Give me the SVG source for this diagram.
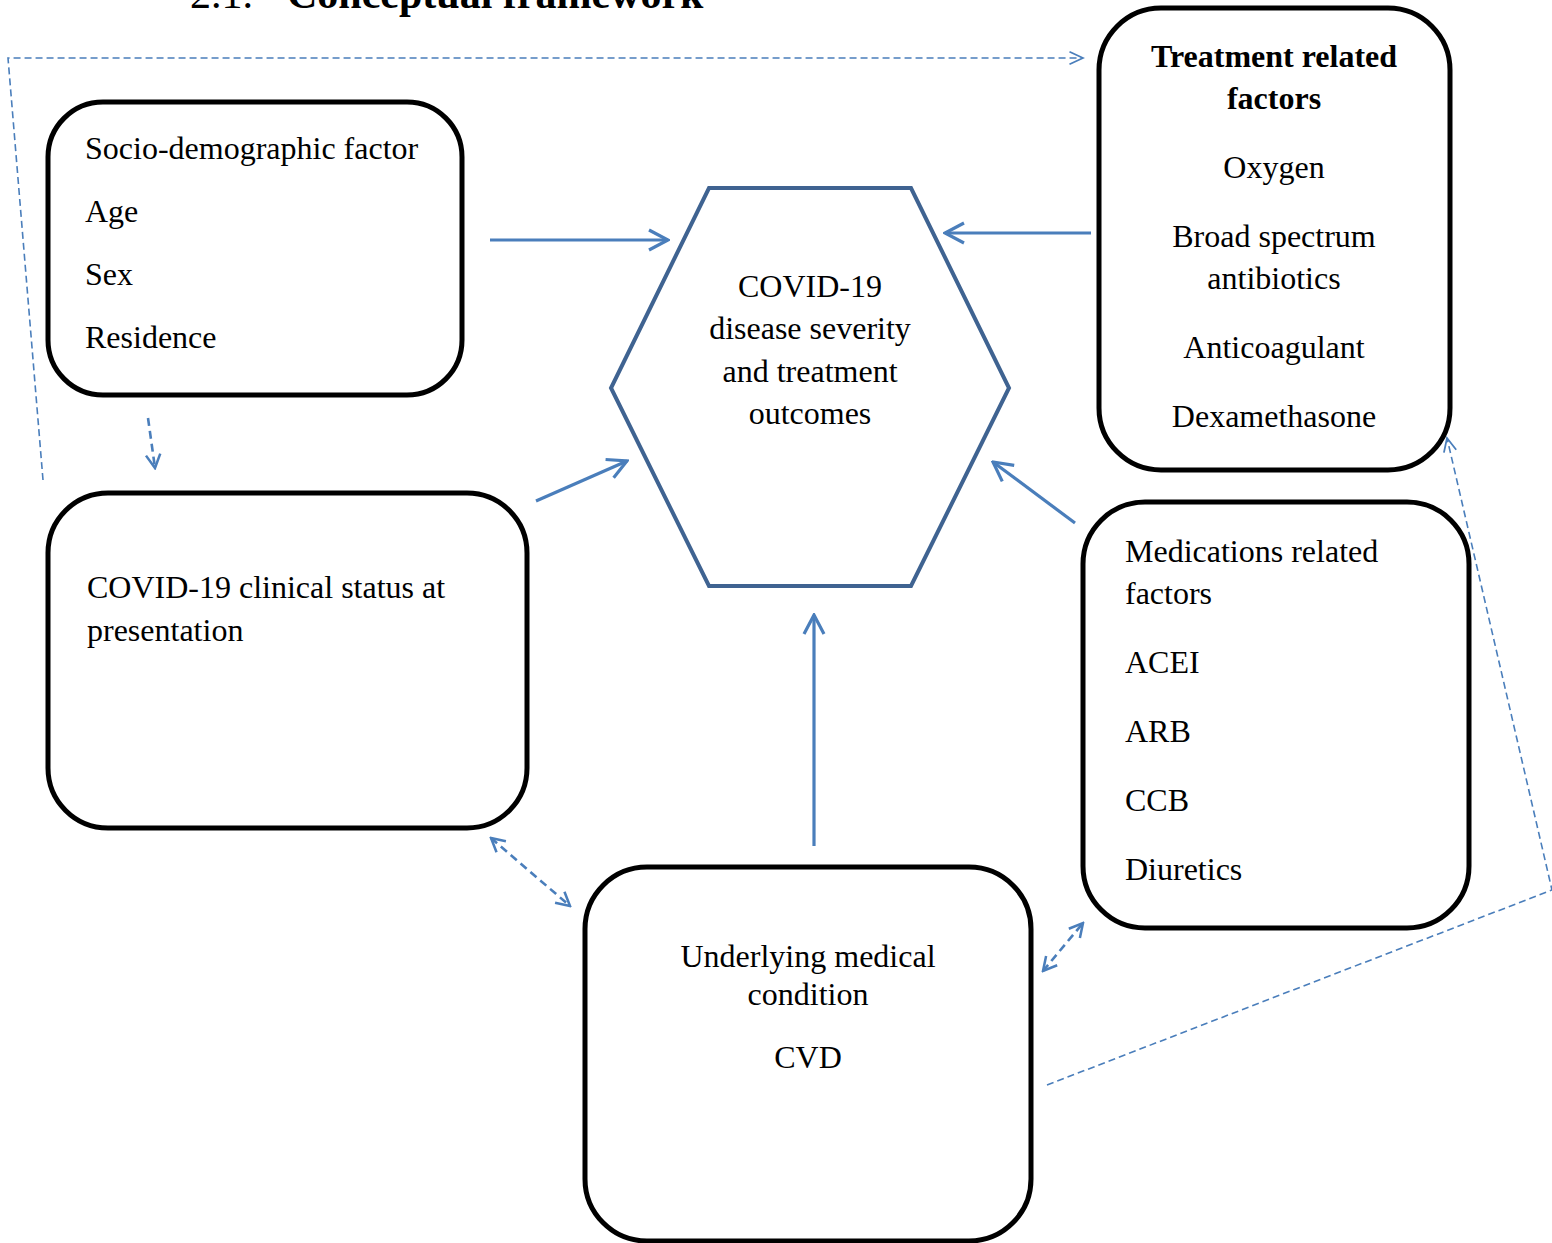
<svg xmlns="http://www.w3.org/2000/svg" width="1552" height="1243" viewBox="0 0 1552 1243">
<style>
text{font-family:"Liberation Serif","Times New Roman",serif;font-size:32px;fill:#000}
.b{font-weight:bold}
.c{text-anchor:middle}
.box{fill:#fff;stroke:#000;stroke-width:5}
.hex{fill:#fff;stroke:#3f6391;stroke-width:4}
.sol{fill:none;stroke:#4a7ebb;stroke-width:3.2}
.dsh{fill:none;stroke:#4a7ebb;stroke-width:2.6;stroke-dasharray:8 5}
.thin{fill:none;stroke:#4a7ebb;stroke-width:1.6;stroke-dasharray:7 4}
</style>
<defs>
<marker id="ah" viewBox="0 0 24 24" refX="22" refY="12" markerWidth="24" markerHeight="24" markerUnits="userSpaceOnUse" orient="auto-start-reverse">
<path d="M3,2 L22,12 L3,22" fill="none" stroke="#4a7ebb" stroke-width="3.2"/>
</marker>
<marker id="ahs" viewBox="0 0 20 20" refX="18" refY="10" markerWidth="18" markerHeight="18" markerUnits="userSpaceOnUse" orient="auto-start-reverse">
<path d="M3,2 L18,10 L3,18" fill="none" stroke="#4a7ebb" stroke-width="2.8"/>
</marker>
<marker id="aht" viewBox="0 0 20 20" refX="18" refY="10" markerWidth="18" markerHeight="18" markerUnits="userSpaceOnUse" orient="auto-start-reverse">
<path d="M3,3 L18,10 L3,17" fill="none" stroke="#4a7ebb" stroke-width="2"/>
</marker>
</defs>
<rect width="1552" height="1243" fill="#fff"/>
<g id="heading">
<text x="190" y="8" style="font-size:42px">2.1.</text>
<text x="287" y="8" class="b" style="font-size:42px">Conceptual framework</text>
</g>
<g id="connectors">
<polyline class="thin" points="43,480 8,58 1083,58" marker-end="url(#aht)"/>
<polyline class="thin" points="1047,1085 1552,890 1447,438" marker-end="url(#aht)"/>
<line class="sol" x1="490" y1="240" x2="668" y2="240" marker-end="url(#ah)"/>
<line class="sol" x1="1091" y1="233" x2="945" y2="233" marker-end="url(#ah)"/>
<line class="sol" x1="536" y1="501" x2="627" y2="461" marker-end="url(#ah)"/>
<line class="sol" x1="1075" y1="523" x2="993" y2="462" marker-end="url(#ah)"/>
<line class="sol" x1="814" y1="846" x2="814" y2="615" marker-end="url(#ah)"/>
<line class="dsh" x1="148" y1="418" x2="155" y2="468" marker-end="url(#ahs)"/>
<line class="dsh" x1="491" y1="838" x2="570" y2="906" marker-start="url(#ahs)" marker-end="url(#ahs)"/>
<line class="dsh" x1="1043" y1="971" x2="1083" y2="923" marker-start="url(#ahs)" marker-end="url(#ahs)"/>
</g>
<g id="socio">
<rect class="box" x="48" y="102" width="414" height="293" rx="55"/>
<text x="85" y="159">Socio-demographic factor</text>
<text x="85" y="222">Age</text>
<text x="85" y="285">Sex</text>
<text x="85" y="348">Residence</text>
</g>
<g id="clinical">
<rect class="box" x="48" y="493" width="479" height="335" rx="60"/>
<text x="87" y="598">COVID-19 clinical status at</text>
<text x="87" y="641">presentation</text>
</g>
<g id="outcome">
<polygon class="hex" points="709,188 911,188 1009,388 911,586 709,586 611,388"/>
<text class="c" x="810" y="297">COVID-19</text>
<text class="c" x="810" y="339">disease severity</text>
<text class="c" x="810" y="382">and treatment</text>
<text class="c" x="810" y="424">outcomes</text>
</g>
<g id="treatment">
<rect class="box" x="1099" y="8" width="351" height="462" rx="62"/>
<text class="c b" x="1274" y="67">Treatment related</text>
<text class="c b" x="1274" y="109">factors</text>
<text class="c" x="1274" y="178">Oxygen</text>
<text class="c" x="1274" y="247">Broad spectrum</text>
<text class="c" x="1274" y="289">antibiotics</text>
<text class="c" x="1274" y="358">Anticoagulant</text>
<text class="c" x="1274" y="427">Dexamethasone</text>
</g>
<g id="medications">
<rect class="box" x="1083" y="502" width="386" height="426" rx="62"/>
<text x="1125" y="562">Medications related</text>
<text x="1125" y="604">factors</text>
<text x="1125" y="673">ACEI</text>
<text x="1125" y="742">ARB</text>
<text x="1125" y="811">CCB</text>
<text x="1125" y="880">Diuretics</text>
</g>
<g id="underlying">
<rect class="box" x="585" y="867" width="446" height="374" rx="62"/>
<text class="c" x="808" y="967">Underlying medical</text>
<text class="c" x="808" y="1005">condition</text>
<text class="c" x="808" y="1068">CVD</text>
</g>
</svg>
